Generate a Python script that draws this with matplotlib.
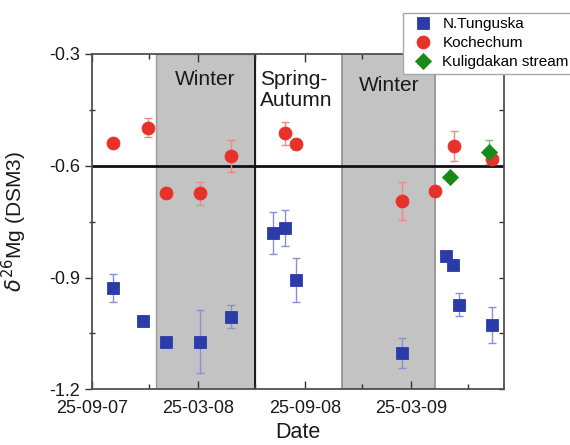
import matplotlib
matplotlib.use("Agg")
import matplotlib.pyplot as plt
import matplotlib.dates as mdates
import numpy as np
import pandas as pd

plt.rcParams['font.family'] = ['Liberation Sans', 'DejaVu Sans']

# --- data ---
tung_dates = ["2007-10-31", "2007-12-22", "2008-01-30", "2008-03-28", "2008-05-21",
              "2008-08-01", "2008-08-22", "2008-09-09", "2009-03-10",
              "2009-05-25", "2009-06-05", "2009-06-15", "2009-08-11"]
tung_vals = [-0.929, -1.018, -1.072, -1.072, -1.005,
             -0.781, -0.767, -0.907, -1.103,
             -0.842, -0.866, -0.973, -1.027]
tung_err = [0.038, 0.0, 0.0, 0.084, 0.031,
            0.056, 0.048, 0.059, 0.040,
            0.0, 0.0, 0.031, 0.049]

koch_dates = ["2007-10-31", "2007-12-31", "2008-01-30", "2008-03-28", "2008-05-21",
              "2008-08-22", "2008-09-09", "2009-03-10", "2009-05-06",
              "2009-06-07", "2009-08-11"]
koch_vals = [-0.538, -0.498, -0.672, -0.674, -0.573,
             -0.513, -0.542, -0.694, -0.668,
             -0.546, -0.582]
koch_err = [0.0, 0.025, 0.0, 0.030, 0.043,
            0.030, 0.0, 0.051, 0.0,
            0.040, 0.008]

kul_dates = ["2009-05-31", "2009-08-06"]
kul_vals = [-0.629, -0.562]
kul_err = [0.0, 0.032]

winter_spans = [("2008-01-13", "2008-07-01"), ("2008-11-28", "2009-05-06")]
season_labels = ["Winter", "Spring-\nAutumn", "Winter"]
tick_dates = ["2007-09-25", "2008-03-25", "2008-09-25", "2009-03-25"]
tick_labels = ["25-09-07", "25-03-08", "25-09-08", "25-03-09"]
minor_dates = ["2008-01-01", "2008-07-01", "2009-01-01", "2009-07-01"]

# --- figure ---
W, H = 570, 445
fig = plt.figure(figsize=(W / 100, H / 100), dpi=100)
L, R, T, B = 91.7, 504, 54, 389.3
ax = fig.add_axes([L / W, 1 - B / H, (R - L) / W, (B - T) / H])

d = lambda s: mdates.date2num(pd.to_datetime(s))

ax.axvspan(d(winter_spans[0][0]), d(winter_spans[0][1]), facecolor='#c3c3c3',
           edgecolor='#9a9a9a', lw=1.0, zorder=0)
ax.axvspan(d(winter_spans[1][0]), d(winter_spans[1][1]), facecolor='#c3c3c3',
           edgecolor='#8f8f8f', lw=1.2, zorder=0)
ax.axvline(d(winter_spans[0][1]), color='#1a1a1a', lw=1.4, zorder=1)
ax.axhline(-0.6, color='#111111', lw=2.0, zorder=2)

blue = '#2b3caa'
red = '#e8312a'
green = '#178a17'

def plot_series(dates, vals, errs, marker, color, ecolor, ms, label):
    x = [d(s) for s in dates]
    e = np.array(errs)
    ax.errorbar(x, vals, yerr=np.where(e > 0, e, np.nan), fmt='none', ecolor=ecolor,
                elinewidth=1.0, capsize=2.8, capthick=1.0, zorder=3)
    ax.plot(x, vals, linestyle='none', marker=marker, color=color, ms=ms,
            markeredgecolor=color, mew=0.6, label=label, zorder=4)

plot_series(tung_dates, tung_vals, tung_err, 's', blue, '#8a8fd6', 8.4, 'N.Tunguska')
plot_series(koch_dates, koch_vals, koch_err, 'o', red, '#f08a82', 9.3, 'Kochechum')
plot_series(kul_dates, kul_vals, kul_err, 'D', green, '#7cc07c', 8.2, 'Kuligdakan stream')

ax.set_xlim(d("2007-09-25"), d("2009-09-01"))
ax.set_ylim(-1.2, -0.3)

ax.set_yticks([-1.2, -0.9, -0.6, -0.3])
ax.set_yticks([-1.05, -0.75, -0.45], minor=True)
ax.set_yticklabels(['-1.2', '-0.9', '-0.6', '-0.3'])
ax.set_xticks([d(s) for s in tick_dates])
ax.set_xticklabels(tick_labels)
ax.set_xticks([d(s) for s in minor_dates], minor=True)

ax.tick_params(axis='x', which='both', direction='in', top=True, bottom=True,
               labelsize=13, color='#333333', labelcolor='#1a1a1a', width=1.0)
ax.tick_params(axis='x', which='major', length=5.5, pad=7.5)
ax.tick_params(axis='x', which='minor', length=3.5)
ax.tick_params(axis='y', which='both', right=False, labelsize=13, color='#333333',
               labelcolor='#1a1a1a', width=1.0)
ax.tick_params(axis='y', which='major', direction='out', length=4.8, pad=3.5)
ax.tick_params(axis='y', which='minor', direction='inout', length=5)

sec = ax.secondary_yaxis('right')
sec.set_yticks([-1.2, -0.9, -0.6, -0.3])
sec.set_yticks([-1.05, -0.75, -0.45], minor=True)
sec.tick_params(axis='y', which='both', direction='in', length=3.5, labelright=False,
                color='#333333', width=1.0)
sec.spines['right'].set_visible(False)

for sp in ax.spines.values():
    sp.set_color('#505050')
    sp.set_linewidth(1.3)

ax.set_xlabel('Date', fontsize=15.5, color='#1a1a1a', labelpad=4)
ax.set_ylabel(r'$\delta^{26}$Mg (DSM3)', fontsize=15, color='#1a1a1a', labelpad=4)
ax.yaxis.set_label_coords((29 - L) / (R - L), 0.5)

# season labels
ax.text(d("2008-04-07"), -0.3 - (80 - T) / 372.6, season_labels[0], ha='center', va='center',
        fontsize=15, color='#1a1a1a')
ax.text(d("2008-07-10"), -0.3 - (90 - T) / 372.6, season_labels[1], ha='left', va='center',
        fontsize=15, color='#1a1a1a', linespacing=1.12)
ax.text(d("2009-02-16"), -0.3 - (86 - T) / 372.6, season_labels[2], ha='center', va='center',
        fontsize=15, color='#1a1a1a')

leg = fig.legend(loc='upper left', bbox_to_anchor=(402.7 / W, 1 - 12.7 / H), fontsize=11,
                 frameon=True, fancybox=False, edgecolor='#a8a8a8', framealpha=1,
                 borderpad=0.3, labelspacing=0.32, handletextpad=0.3, handlelength=2.0,
                 borderaxespad=0)
leg.get_frame().set_linewidth(1.0)

fig.savefig('out.png', dpi=100)
